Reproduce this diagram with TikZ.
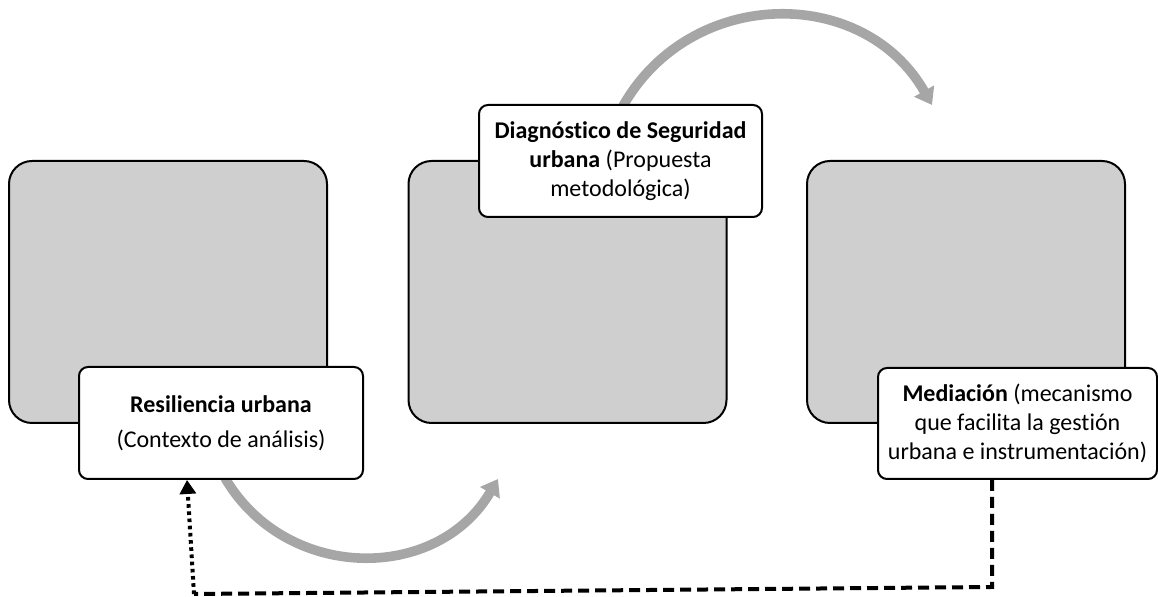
\documentclass[tikz,border=0pt]{standalone}
\usepackage{fontspec}
\setmainfont{Carlito}[Ligatures=NoCommon,RawFeature={-liga,-calt,-dlig}]
\usetikzlibrary{arrows.meta,backgrounds}
\definecolor{panelgray}{RGB}{207,207,207}
\definecolor{flowgray}{RGB}{166,166,166}

\begin{document}
\begin{tikzpicture}[x=0.5pt,y=-0.5pt,
        panel/.style={draw=black,line width=1pt,fill=panelgray,rounded corners=11.5pt,
            minimum width=159pt,minimum height=131pt},
        labelbox/.style={draw=black,line width=1pt,fill=white,rounded corners=4.5pt,
            align=center,inner sep=0pt,font=\fontsize{12}{14.6}\selectfont},
        flow/.style={draw=flowgray,line width=4.8pt,-{Triangle[length=8pt,width=11pt,fill=flowgray]}},
        backdash/.style={line width=2pt,dash pattern=on 5.5pt off 3pt},
        backdot/.style={line width=2pt,dash pattern=on 1.8pt off 1.8pt,
            -{Triangle[length=7pt,width=8pt]}}]
                    \useasboundingbox (0,0) rectangle (1158,597);
                    \node[panel] (panelA) at (168,292) {};
                    \node[panel] (panelB) at (567.5,292) {};
                    \node[panel] (panelC) at (966,292) {};
                    \node[labelbox,minimum width=142pt,minimum height=56pt] (resil) at (221,423)
                        {\textbf{Resiliencia urbana}\\[2.9pt](Contexto de análisis)};
                    \node[labelbox,minimum width=141.5pt,minimum height=56pt] (diag) at (620.5,161)
                        {\textbf{Diagnóstico de Seguridad}\\\textbf{urbana} (Propuesta\\metodológica)};
                    \node[labelbox,minimum width=139.5pt,minimum height=55.5pt] (media) at (1017.5,423.5)
                        {\textbf{Mediación} (mecanismo\\que facilita la gestión\\urbana e instrumentación)};
                    \coordinate (flowendA) at (498,479);
                    \coordinate (flowendB) at (932,105);
                    \coordinate (turnR) at (992,587);
                    \coordinate (turnL) at (194,594);
                    \begin{scope}[on background layer]
                        \draw[flow] ([xshift=2pt,yshift=1pt]resil.south) .. controls +(61,104) and +(-61,104) .. (flowendA);
                        \draw[flow] ([xshift=1.25pt,yshift=-1pt]diag.north) .. controls +(68,-120) and +(-68,-120) .. (flowendB);
                    \end{scope}
                    \draw[backdash] ([xshift=-12.75pt]media.south) -- (turnR) -- (turnL);
                    \draw[backdot] (turnL) -- ([xshift=-17pt]resil.south);
                \end{tikzpicture}
\end{document}
